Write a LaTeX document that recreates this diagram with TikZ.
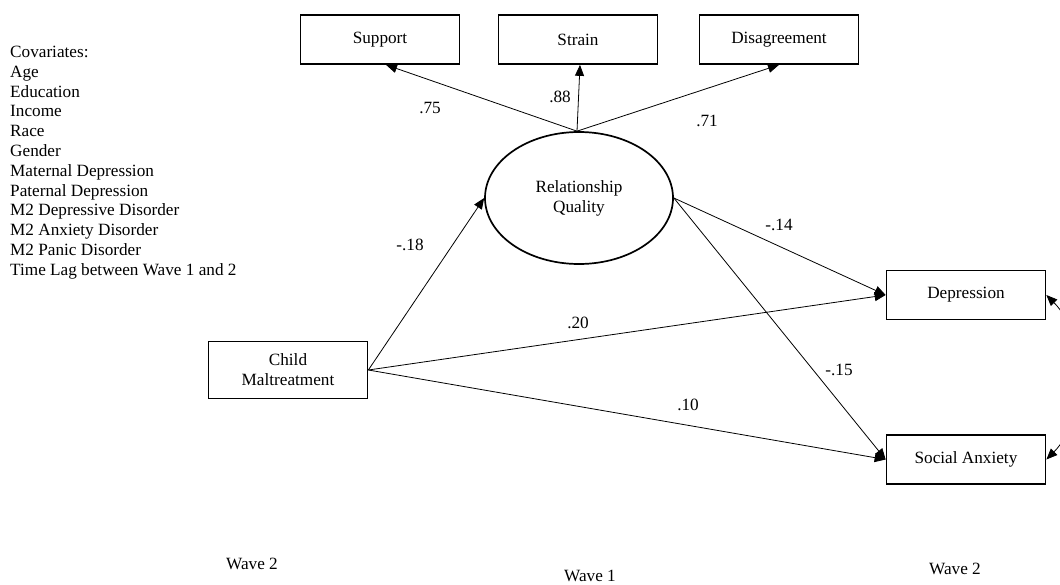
\documentclass[tikz,border=0pt]{standalone}
\usepackage{fontspec}
\setmainfont{Liberation Serif}
\usetikzlibrary{shapes.geometric,arrows.meta}

\begin{document}
\begin{tikzpicture}[x=1pt, y=-1pt, every node/.style={font=\fontsize{17.2}{19.8}\selectfont}]
        \useasboundingbox (0,0) rectangle (1060,584);
        \tikzstyle{box}=[rectangle, draw, line width=1.7pt, minimum width=159pt, minimum height=49pt, inner sep=0pt, align=center]
        \tikzstyle{lat}=[ellipse, draw, line width=1.7pt, minimum width=188pt, minimum height=132pt, inner sep=0pt, align=center]
        \tikzstyle{lbl}=[inner sep=0pt]

        \node[box] (SUP) at (380,39.5) {Support};
        \node[box] (STR) at (578,39.5) {Strain};
        \node[box] (DIS) at (779,39.5) {Disagreement};
        \node[lat] (RQ) at (579,198) {Relationship\\Quality};
        \node[box, minimum height=57pt] (CM) at (288,370) {Child\\Maltreatment};
        \node[box] (DEP) at (966,295) {Depression};
        \node[box] (SA) at (966,459.5) {Social Anxiety};

        % covariates
        \foreach \t [count=\i from 0] in {Covariates:, Age, Education, Income, Race, Gender,
                Maternal Depression, Paternal Depression, M2 Depressive Disorder,
                M2 Anxiety Disorder, M2 Panic Disorder, Time Lag between Wave 1 and 2}
            \node[lbl, anchor=base west] (C\i) at (10,57.5+19.8*\i) {\t};

        \node[lbl] (WL) at (252,564) {Wave 2};
        \node[lbl] (WM) at (590,576) {Wave 1};
        \node[lbl] (WR) at (955,569) {Wave 2};

        \tikzstyle{late}=[->, line width=0.8pt, >={Triangle[length=11pt,width=9pt]}]
        \draw[late] ([xshift=-2pt]RQ.north)--([xshift=6pt]SUP.south);
        \draw[late] ([xshift=-2pt]RQ.north)--([xshift=2pt]STR.south);
        \draw[late] ([xshift=-2pt]RQ.north)--(DIS.south);
        \draw[late] (CM.east)--(RQ.west);
        \draw[late] (CM.east)--(DEP.west);
        \draw[late] (CM.east)--(SA.west);
        \draw[late] (RQ.east)--(DEP.west);
        \draw[late] (RQ.east)--(SA.west);
        \draw[late, <->] (DEP.east) .. controls +(40,40) and +(40,-40) .. (SA.east);

        \node[lbl] (L1) at (430,108) {.75};
        \node[lbl] (L2) at (560,97) {.88};
        \node[lbl] (L3) at (707,121) {.71};
        \node[lbl] (L4) at (410,245) {-.18};
        \node[lbl] (L5) at (578,323) {.20};
        \node[lbl] (L6) at (779,225) {-.14};
        \node[lbl] (L7) at (839,370) {-.15};
        \node[lbl] (L8) at (688,405) {.10};
\end{tikzpicture}
\end{document}
